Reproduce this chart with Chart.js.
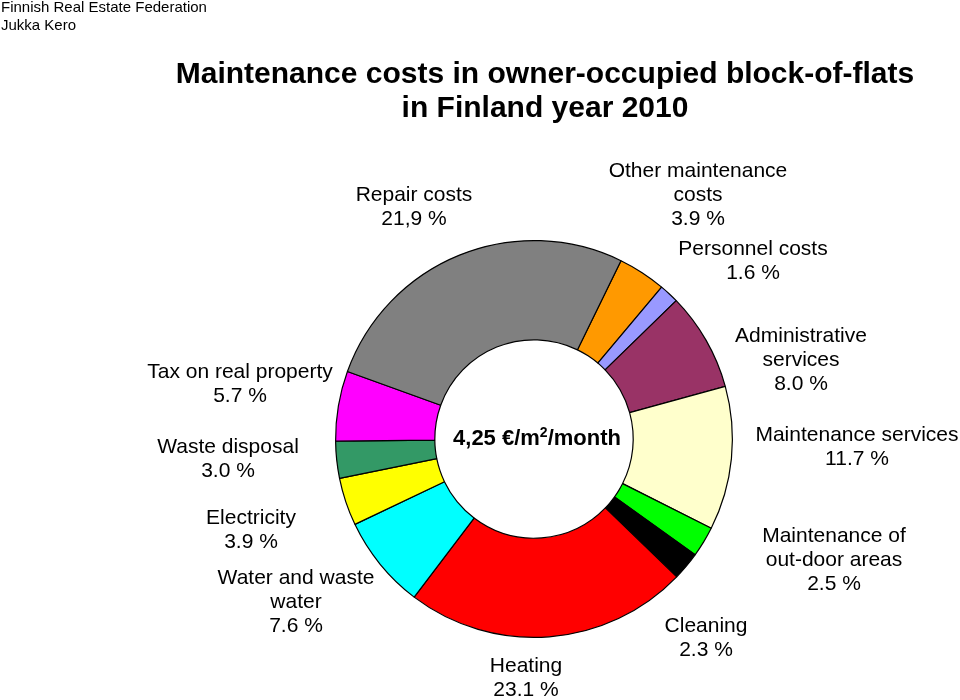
<!DOCTYPE html>
<html>
<head>
<meta charset="utf-8">
<script src="https://cdn.jsdelivr.net/npm/chart.js@4"></script>
<style>
html,body{margin:0;padding:0;background:#fff;}
#wrap{position:relative;width:960px;height:700px;}
</style>
</head>
<body>
<div id="wrap"><canvas id="c" width="960" height="700"></canvas></div>
<script>
// ---- data ----
const categories = ["Other maintenance costs","Personnel costs","Administrative services","Maintenance services","Maintenance of out-door areas","Cleaning","Heating","Water and waste water","Electricity","Waste disposal","Tax on real property","Repair costs"];
// slice sizes as drawn in the picture (%)
const sliceValues = [3.9, 1.6, 8.0, 11.7, 2.5, 2.3, 23.1, 7.6, 3.9, 3.0, 5.7, 26.7];
// label texts as printed
const labelLines = [
  ["Other maintenance","costs","3.9 %"],
  ["Personnel costs","1.6 %"],
  ["Administrative","services","8.0 %"],
  ["Maintenance services","11.7 %"],
  ["Maintenance of","out-door areas","2.5 %"],
  ["Cleaning","2.3 %"],
  ["Heating","23.1 %"],
  ["Water and waste","water","7.6 %"],
  ["Electricity","3.9 %"],
  ["Waste disposal","3.0 %"],
  ["Tax on real property","5.7 %"],
  ["Repair costs","21,9 %"]
];
const titleLines = ["Maintenance costs in owner-occupied block-of-flats","in Finland year 2010"];
const sourceLines = ["Finnish Real Estate Federation","Jukka Kero"];
const centerText = {before:"4,25 €/m", sup:"2", after:"/month"};

// ---- styles / layout ----
const colors = ["#FF9900","#9999FF","#993366","#FFFFCC","#00FF00","#000000","#FF0000","#00FFFF","#FFFF00","#339966","#FF00FF","#808080"];
const labelPos = [ // [centerX, firstLineCenterY]
  [698,171],[753,249],[801,336],[857,435],[834,536],[706,626],[526,666],[296,578],[251,518],[228,447],[240,372],[414,195]
];
const FONT = '"Liberation Sans", Arial, sans-serif';

const textPlugin = {
  id:'texts',
  afterDraw(chart){
    const ctx = chart.ctx;
    ctx.save();
    ctx.fillStyle = '#000';
    ctx.textBaseline = 'middle';
    // source
    ctx.font = '15px ' + FONT;
    ctx.textAlign = 'left';
    sourceLines.forEach((t,i)=>ctx.fillText(t, 1, 8 + i*18));
    // title
    ctx.font = 'bold 30px ' + FONT;
    ctx.textAlign = 'center';
    titleLines.forEach((t,i)=>ctx.fillText(t, 545, 75 + i*34));
    // labels
    ctx.font = '21px ' + FONT;
    labelLines.forEach((lines,k)=>{
      const [x,y] = labelPos[k];
      lines.forEach((t,i)=>ctx.fillText(t, x, y + i*24));
    });
    // center text
    const meta = chart.getDatasetMeta(0).data[0];
    const cx = meta.x, cy = meta.y;
    ctx.font = 'bold 22px ' + FONT;
    const w1 = ctx.measureText(centerText.before).width;
    const w3 = ctx.measureText(centerText.after).width;
    ctx.font = 'bold 14px ' + FONT;
    const w2 = ctx.measureText(centerText.sup).width;
    let x0 = cx - (w1+w2+w3)/2 + 3;
    ctx.textAlign = 'left';
    ctx.font = 'bold 22px ' + FONT;
    ctx.fillText(centerText.before, x0, cy);
    ctx.font = 'bold 14px ' + FONT;
    ctx.fillText(centerText.sup, x0 + w1, cy - 6);
    ctx.font = 'bold 22px ' + FONT;
    ctx.fillText(centerText.after, x0 + w1 + w2, cy);
    ctx.restore();
  }
};

new Chart(document.getElementById('c'), {
  type:'doughnut',
  data:{
    labels: categories,
    datasets:[{
      data: sliceValues,
      backgroundColor: colors,
      borderColor:'#000',
      borderWidth:1.2,
      hoverOffset:0
    }]
  },
  options:{
    responsive:false,
    animation:false,
    rotation:26,
    cutout:'50%',
    layout:{padding:{left:335,right:227,top:239,bottom:61}},
    plugins:{legend:{display:false},tooltip:{enabled:false},title:{display:false}},
    events:[]
  },
  plugins:[textPlugin]
});
</script>
</body>
</html>
